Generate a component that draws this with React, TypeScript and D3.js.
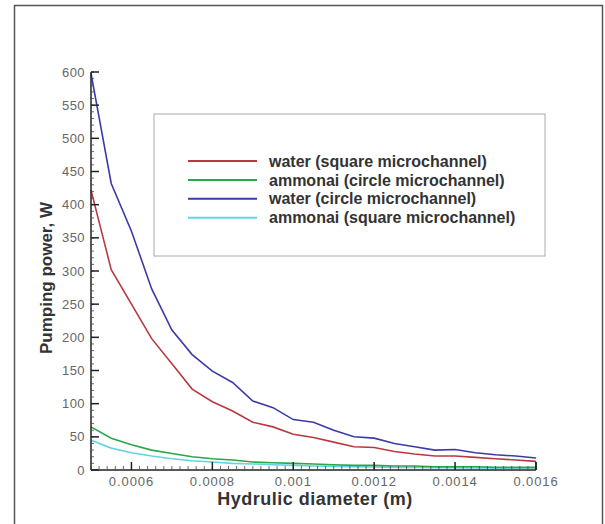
import React from "react";
import * as d3 from "d3";

const diameters = [0.0005, 0.00055, 0.0006, 0.00065, 0.0007, 0.00075, 0.0008, 0.00085, 0.0009, 0.00095, 0.001, 0.00105, 0.0011, 0.00115, 0.0012, 0.00125, 0.0013, 0.00135, 0.0014, 0.00145, 0.0015, 0.00155, 0.0016];
const waterSquare = [422, 302, 250, 198, 160, 122, 103, 89, 72, 65, 54, 49, 42, 35, 34, 28, 24, 21, 21, 19, 17, 15, 13];
const ammoniaCircle = [65, 48, 38, 30, 25, 20, 17, 15, 12, 11, 10, 9, 8, 7, 7, 6, 6, 5, 5, 5, 4, 4, 4];
const waterCircle = [598, 432, 360, 273, 211, 174, 149, 132, 104, 94, 76, 72, 60, 50, 48, 40, 35, 30, 31, 26, 23, 21, 18];
const ammoniaSquare = [45, 33, 26, 21, 17, 14, 12, 10, 9, 8, 7, 6, 5.5, 5, 4.5, 4, 4, 3.5, 3.5, 3, 3, 3, 3];
const seriesNames = ["water (square microchannel)", "ammonai (circle microchannel)", "water (circle microchannel)", "ammonai (square microchannel)"];
const seriesColors = ["#b83a40", "#27a84c", "#3b3ba8", "#62d4e2"];
const xTickValues = [0.0006, 0.0008, 0.001, 0.0012, 0.0014, 0.0016];
const xTickLabels = ["0.0006", "0.0008", "0.001", "0.0012", "0.0014", "0.0016"];
const yTickValues = [0, 50, 100, 150, 200, 250, 300, 350, 400, 450, 500, 550, 600];

export default function App() {
  const W = 605, H = 524;
  const x = d3.scaleLinear().domain([0.0005, 0.0016]).range([91, 536]);
  const y = d3.scaleLinear().domain([0, 600]).range([470, 72]);
  const allSeries = [waterSquare, ammoniaCircle, waterCircle, ammoniaSquare];
  const line = d3.line<number>().x((_, i) => x(diameters[i])).y((d) => y(d));
  const drawOrder = [3, 1, 0, 2];
  const xMinor = d3.range(0, 56).map((i) => 0.0005 + i * 0.00002).filter((v) => v <= 0.0016 + 1e-9);
  const yMinor = d3.range(0, 61).map((i) => i * 10);
  const font = "Arial, 'Liberation Sans', sans-serif";
  return (
    <svg width={W} height={H} style={{ position: "absolute", left: 0, top: 0 }} fontFamily={font}>
      <rect x={0} y={0} width={W} height={H} fill="#fff" />
      <rect x={14.5} y={5.5} width={588} height={540} fill="none" stroke="#555" strokeWidth={1.5} />
      {drawOrder.map((k) => (
        <path key={k} d={line(allSeries[k]) || ""} fill="none" stroke={seriesColors[k]} strokeWidth={1.6} />
      ))}
      <line x1={91} x2={91} y1={72} y2={470} stroke="#222" strokeWidth={1.5} />
      <line x1={91} x2={536} y1={470} y2={470} stroke="#222" strokeWidth={1.5} />
      <line x1={536} x2={536} y1={462} y2={470} stroke="#222" strokeWidth={1.5} />
      {yMinor.map((v) => (
        <line key={"ym" + v} x1={91} x2={94} y1={y(v)} y2={y(v)} stroke="#444" strokeWidth={0.8} />
      ))}
      {yTickValues.map((v) => (
        <g key={"y" + v}>
          <line x1={91} x2={99} y1={y(v)} y2={y(v)} stroke="#222" strokeWidth={1.5} />
          <text x={85} y={y(v)} dy="0.35em" textAnchor="end" fontSize={13} letterSpacing={0.4} fill="#666">{v}</text>
        </g>
      ))}
      {xMinor.map((v, i) => (
        <line key={"xm" + i} x1={x(v)} x2={x(v)} y1={470} y2={466} stroke="#444" strokeWidth={0.8} />
      ))}
      {xTickValues.map((v, i) => (
        <g key={"x" + v}>
          <line x1={x(v)} x2={x(v)} y1={470} y2={462} stroke="#222" strokeWidth={1.5} />
          <text x={x(v)} y={486} textAnchor="middle" fontSize={13} letterSpacing={0.9} fill="#666">{xTickLabels[i]}</text>
        </g>
      ))}
      <text x={315} y={505} textAnchor="middle" fontSize={18} letterSpacing={0.5} fontWeight="bold" fill="#333">Hydrulic diameter (m)</text>
      <text transform="translate(52,278) rotate(-90)" textAnchor="middle" fontSize={17} fontWeight="bold" fill="#333">Pumping power, W</text>
      <rect x={154} y={114} width={391} height={142} fill="#fff" stroke="#aaa" strokeWidth={1} />
      {seriesNames.map((name, i) => {
        const ly = 161 + i * 18.9;
        return (
          <g key={name}>
            <line x1={188} x2={257} y1={ly} y2={ly} stroke={seriesColors[i]} strokeWidth={2} />
            <text x={269} y={ly} dy="0.35em" fontSize={16} fontWeight="bold" fill="#333">{name}</text>
          </g>
        );
      })}
    </svg>
  );
}
